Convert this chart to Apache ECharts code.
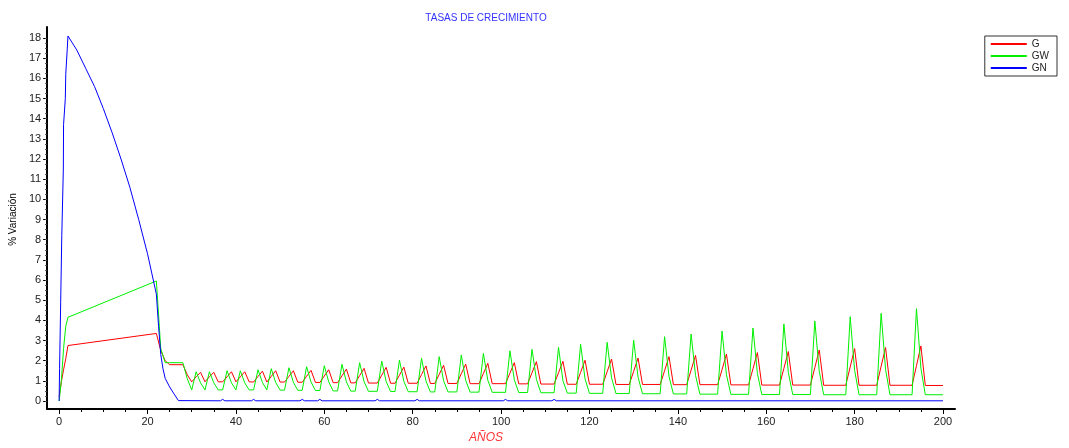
<!DOCTYPE html>
<html>
<head>
<meta charset="utf-8">
<script src="https://cdn.jsdelivr.net/npm/echarts@6/dist/echarts.min.js"></script>
<style>
  html, body { margin: 0; padding: 0; background: #fff; }
  #chart { width: 1069px; height: 448px; }
</style>
</head>
<body>
<div id="chart"></div>
<script>
  // años (vertices) compartidos por G y GW
  const gYears = [
    0, 0.5, 1, 1.5, 2, 22, 23, 24, 25, 28, 29,
    30, 31, 32, 33, 34, 35, 36, 37, 38, 39, 40, 41, 42, 43,
    44, 45, 46, 47, 48, 49, 50, 51, 52, 53, 54, 55, 56, 57, 58, 59,
    60, 61, 62, 63, 64, 65, 66, 67, 68, 69, 70, 72,
    73, 74, 75, 76, 77, 78, 79, 81, 82, 83, 84, 85, 86, 87, 88, 90,
    91, 92, 93, 95, 96, 97, 98, 101, 102, 103, 104, 106, 107, 108, 109, 112,
    113, 114, 115, 117, 118, 119, 120, 123, 124, 125, 126, 129, 130, 131, 132, 136,
    137, 138, 139, 142, 143, 144, 145, 149, 150, 151, 152, 156, 157, 158, 159, 163,
    164, 165, 166, 170, 171, 172, 173, 178, 179, 180, 181, 185, 186, 187, 188, 193,
    194, 195, 196, 200
  ];
  const gValues = [
    0.2, 0.95, 1.55, 2.1, 2.75, 3.35, 2.5, 2.0, 1.8, 1.8, 1.3,
    0.95, 1.2, 1.42, 0.95, 1.2, 1.42, 0.95, 0.95, 1.2, 1.45, 0.95, 1.2, 1.45, 0.95,
    0.94, 1.22, 1.48, 0.94, 1.22, 1.5, 0.94, 0.94, 1.22, 1.5, 0.93, 0.93, 1.23, 1.52, 0.92, 0.92,
    1.24, 1.55, 0.91, 0.91, 1.25, 1.58, 0.9, 0.9, 1.26, 1.62, 0.89, 0.89,
    1.28, 1.67, 0.88, 0.88, 1.28, 1.68, 0.88, 0.88, 1.31, 1.74, 0.87, 0.87, 1.32, 1.77, 0.87, 0.87,
    1.35, 1.83, 0.86, 0.86, 1.36, 1.87, 0.86, 0.86, 1.38, 1.9, 0.85, 0.85, 1.4, 1.95, 0.84, 0.84,
    1.4, 1.97, 0.83, 0.83, 1.42, 2.02, 0.83, 0.83, 1.45, 2.08, 0.82, 0.82, 1.47, 2.13, 0.82, 0.82,
    1.5, 2.2, 0.81, 0.81, 1.53, 2.26, 0.81, 0.81, 1.55, 2.33, 0.8, 0.8, 1.6, 2.4, 0.79, 0.79,
    1.62, 2.45, 0.79, 0.79, 1.66, 2.53, 0.78, 0.78, 1.69, 2.6, 0.78, 0.78, 1.72, 2.65, 0.78, 0.78,
    1.75, 2.73, 0.77, 0.77
  ];
  const gwValues = [
    0, 1.0, 2.6, 3.7, 4.15, 5.95, 2.6, 1.9, 1.9, 1.9, 1.1,
    0.55, 1.45, 0.9, 0.55, 1.45, 0.9, 0.55, 0.55, 1.5, 0.9, 0.55, 1.5, 0.9, 0.55,
    0.55, 1.55, 0.92, 0.55, 1.6, 0.92, 0.54, 0.54, 1.65, 0.93, 0.53, 0.53, 1.7, 0.94, 0.52, 0.52,
    1.75, 0.95, 0.5, 0.5, 1.82, 0.95, 0.49, 0.49, 1.9, 0.96, 0.48, 0.48,
    1.98, 0.97, 0.47, 0.47, 2.03, 0.98, 0.46, 0.46, 2.12, 1.0, 0.45, 0.45, 2.2, 1.0, 0.45, 0.45,
    2.28, 1.02, 0.44, 0.44, 2.36, 1.03, 0.43, 0.43, 2.49, 1.05, 0.42, 0.42, 2.56, 1.07, 0.41, 0.41,
    2.66, 1.0, 0.39, 0.39, 2.81, 1.1, 0.38, 0.38, 2.91, 1.15, 0.37, 0.37, 3.02, 1.18, 0.36, 0.36,
    3.19, 1.22, 0.35, 0.35, 3.32, 1.27, 0.34, 0.34, 3.47, 1.3, 0.33, 0.33, 3.62, 1.37, 0.32, 0.32,
    3.82, 1.42, 0.32, 0.32, 3.97, 1.47, 0.31, 0.31, 4.18, 1.52, 0.31, 0.31, 4.35, 1.57, 0.31, 0.31,
    4.58, 1.62, 0.31, 0.31
  ];
  const gnYears = [
    0, 0.1, 0.35, 0.6, 0.95, 1.0, 1.4, 1.5, 1.85, 2,
    4, 6, 8, 10, 12, 14, 16, 18, 20, 21, 22, 22.5, 23, 23.5, 24, 25, 26, 27,
    36.5, 37, 37.5, 43.5, 44, 44.5, 54.5, 55, 55.5, 58.5, 59, 59.5,
    71.5, 72, 72.5, 80.5, 81, 81.5, 100.5, 101, 101.5, 111.5, 112, 112.5, 200
  ];
  const gnValues = [
    0, 1.6, 4.9, 8.2, 11.5, 13.7, 15, 16.2, 17.5, 18.1,
    17.4, 16.5, 15.6, 14.5, 13.3, 12.0, 10.6, 9.0, 7.3, 6.3, 5.3, 3.7, 2.3, 1.6, 1.12, 0.7, 0.35, 0.02,
    0.01, 0.08, 0.01, 0.01, 0.08, 0.01, 0.01, 0.08, 0.01, 0.01, 0.08, 0.01,
    0.01, 0.08, 0.01, 0.01, 0.08, 0.01, 0.01, 0.08, 0.01, 0.01, 0.08, 0.01, 0.01
  ];
  const seriesNames = ['G', 'GW', 'GN'];
  const seriesColors = ['#ff0000', '#00f000', '#0000ff'];

  const font = 'Liberation Sans, Arial, sans-serif';
  const pairs = (xs, ys) => xs.map((x, i) => [x, ys[i]]);
  const hiddenLine = { show: false, onZero: false };

  let chart = echarts.init(document.getElementById('chart'));
  chart.setOption({
    animation: false,
    backgroundColor: '#ffffff',
    title: [
      { text: 'TASAS DE CRECIMIENTO', left: 481, top: 8, textAlign: 'center',
        textStyle: { fontSize: 10, fontWeight: 'normal', color: '#3333ff', fontFamily: font } },
      { text: 'AÑOS', left: 481, top: 427, textAlign: 'center',
        textStyle: { fontSize: 12, fontWeight: 'normal', fontStyle: 'italic', color: '#ff3333', fontFamily: font } }
    ],
    legend: {
      data: seriesNames,
      orient: 'vertical',
      right: 12, top: 36,
      icon: 'rect',
      itemWidth: 36, itemHeight: 2, itemGap: 0,
      padding: [2, 8, 2, 6],
      borderColor: '#333', borderWidth: 1,
      textStyle: { fontSize: 10, lineHeight: 12, color: '#222', fontFamily: font }
    },
    grid: [
      // marco de los ejes
      { left: 47, right: 114, top: 27, bottom: 39 },
      // zona de datos
      { left: 59, right: 126, top: 38, bottom: 47 }
    ],
    xAxis: [
      { gridIndex: 0, type: 'value', min: 0, max: 1, position: 'bottom',
        axisLine: { show: true, onZero: false, lineStyle: { color: '#000', width: 2 } },
        axisTick: { show: false }, axisLabel: { show: false }, splitLine: { show: false } },
      { gridIndex: 1, type: 'value', min: 0, max: 200, interval: 20, offset: 8, position: 'bottom',
        axisLine: hiddenLine,
        axisTick: { show: true, length: 5, lineStyle: { color: '#000' } },
        axisLabel: { fontSize: 11, color: '#222', margin: 7, fontFamily: font },
        splitLine: { show: false } },
      // marcas menores
      { gridIndex: 1, type: 'value', min: 0, max: 200, interval: 5, offset: 8, position: 'bottom',
        axisLine: hiddenLine,
        axisTick: { show: true, length: 3, lineStyle: { color: '#000' } },
        axisLabel: { show: false }, splitLine: { show: false } }
    ],
    yAxis: [
      { gridIndex: 0, type: 'value', min: 0, max: 1, position: 'left',
        axisLine: { show: true, onZero: false, lineStyle: { color: '#000', width: 2 } },
        axisTick: { show: false }, axisLabel: { show: false }, splitLine: { show: false } },
      { gridIndex: 1, type: 'value', min: 0, max: 18, interval: 1, offset: 12, position: 'left',
        name: '% Variación', nameLocation: 'middle', nameGap: 28,
        nameTextStyle: { fontSize: 10, color: '#000', fontFamily: font },
        axisLine: hiddenLine,
        axisTick: { show: true, length: 4, lineStyle: { color: '#000' } },
        axisLabel: { fontSize: 11, color: '#222', margin: 6, fontFamily: font },
        splitLine: { show: false } },
      // marcas menores
      { gridIndex: 1, type: 'value', min: 0, max: 18, interval: 0.25, offset: 12, position: 'left',
        axisLine: hiddenLine,
        axisTick: { show: true, length: 2, lineStyle: { color: '#444' } },
        axisLabel: { show: false }, splitLine: { show: false } }
    ],
    series: [
      { name: 'G', type: 'line', xAxisIndex: 1, yAxisIndex: 1, symbol: 'none', clip: false,
        color: seriesColors[0], lineStyle: { width: 1, color: seriesColors[0] },
        data: pairs(gYears, gValues) },
      { name: 'GW', type: 'line', xAxisIndex: 1, yAxisIndex: 1, symbol: 'none', clip: false,
        color: seriesColors[1], lineStyle: { width: 1, color: seriesColors[1] },
        data: pairs(gYears, gwValues) },
      { name: 'GN', type: 'line', xAxisIndex: 1, yAxisIndex: 1, symbol: 'none', clip: false,
        color: seriesColors[2], lineStyle: { width: 1, color: seriesColors[2] },
        data: pairs(gnYears, gnValues) }
    ]
  });
</script>
</body>
</html>
